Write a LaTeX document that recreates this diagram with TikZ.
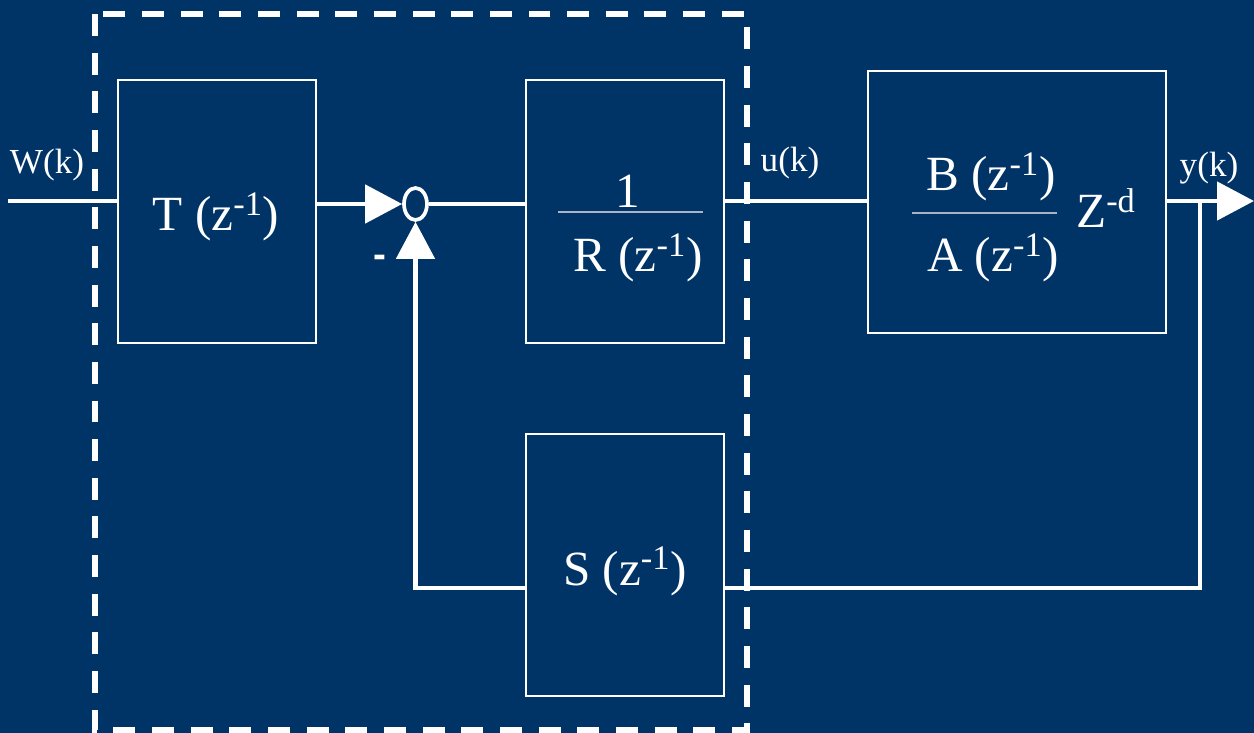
\documentclass[tikz,border=0pt]{standalone}
\usepackage{fontspec}
\setmainfont{Liberation Serif}
\newfontfamily\signsans{Liberation Sans}
\usepackage{tikz}
\usetikzlibrary{arrows.meta, positioning, shapes.geometric}
\definecolor{mynavy}{HTML}{003366}
\definecolor{myrule}{HTML}{A9B4C4}
\tikzset{
block/.style={
draw=white,
line width=1.1pt,
minimum width=3.96cm,
minimum height=5.26cm,
inner sep=0pt
},
bigtext/.style={
text=white,
font=\fontsize{28}{32}\selectfont,
anchor=base,
inner sep=0pt
},
labeltext/.style={
text=white,
font=\fontsize{20}{24}\selectfont,
anchor=base,
inner sep=0pt
},
signal/.style={
draw=white,
line width=2.7pt
},
arrow/.style={
signal,
-{Triangle[length=0.74cm,width=0.76cm]}
},
controller/.style={
draw=white,
line width=3pt,
dash pattern=on 12.5pt off 9.5pt
}
}

\begin{document}
\begin{tikzpicture}[x=0.02cm,y=0.02cm]
\fill[mynavy] (0,0) rectangle (1254,-733);
\useasboundingbox (0,0) rectangle (1254,-733);

% blocks
\node[block] (T) at (217,-211.5) {};
\node[block] (R) at (625,-211.5) {};
\node[block, minimum width=5.96cm, minimum height=5.24cm] (P) at (1017,-202) {};
\node[block, minimum height=5.24cm] (S) at (625,-565) {};
\node[draw=white, line width=2.1pt, ellipse, minimum width=0.46cm,
  minimum height=0.64cm, inner sep=0pt] (sum) at (415.5,-204) {};

\coordinate (in) at (8,-201);
\coordinate (out) at (1254,-201);
\coordinate (tap) at (1200,-201);
\coordinate (fb) at (415,-588);

% controller boundary
\draw[controller] (95,-14) rectangle (747,-730);

% signals
\draw[signal] (in) -- (T.west |- in);
\draw[arrow] (T.east |- sum.west) -- (sum.west);
\draw[signal] (sum.east) -- (R.west |- sum.east);
\draw[signal] (R.east |- in) -- (P.west |- in);
\draw[arrow] (P.east |- in) -- (out);
\draw[signal] (tap) -- (tap |- fb) -- (S.east |- fb);
\draw[arrow] (S.west |- fb) -- (sum.south |- fb) -- (sum.south);

% texts
\node[labeltext] (wlabel) at (47,-174) {W(k)};
\node[labeltext] (ulabel) at (790,-172) {u(k)};
\node[labeltext] (ylabel) at (1209,-177) {y(k)};
\node[text=white, font=\signsans\bfseries\fontsize{22}{26}\selectfont] (minus) at (380,-261) {-};

\node[bigtext] (Ttext) at (216,-231) {T (z\textsuperscript{-1})};
\node[bigtext] (Rnum) at (628,-208) {1};
\node[bigtext] (Rden) at (638,-272) {R (z\textsuperscript{-1})};
\draw[myrule, line width=0.6pt] (558,-212) -- (703,-212);
\node[bigtext] (Stext) at (625,-585) {S (z\textsuperscript{-1})};

\node[bigtext] (Bnum) at (991,-191) {B (z\textsuperscript{-1})};
\node[bigtext] (Aden) at (993,-272) {A (z\textsuperscript{-1})};
\draw[myrule, line width=0.6pt] (912,-213) -- (1057,-213);
\node[bigtext] (delay) at (1106,-228) {Z\textsuperscript{-d}};

\end{tikzpicture}
\end{document}
